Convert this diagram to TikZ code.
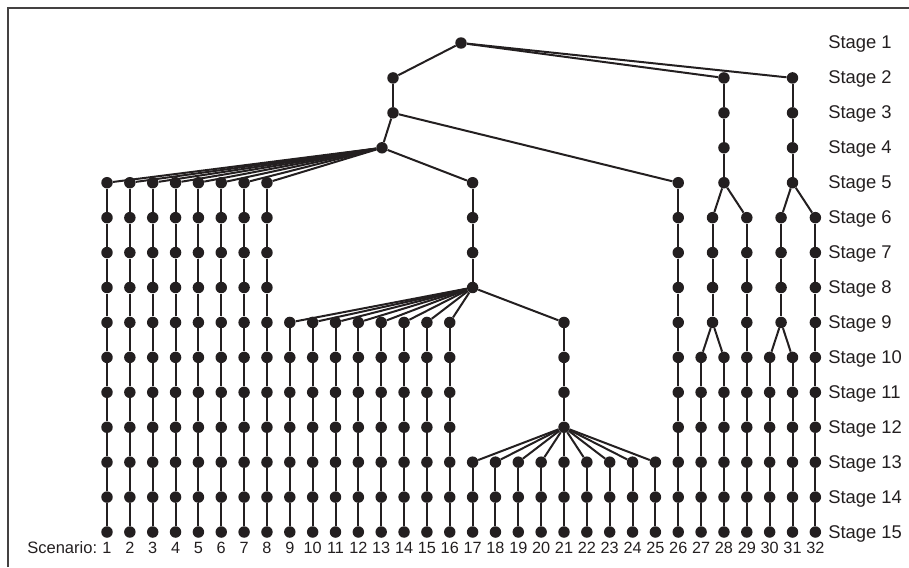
\documentclass[tikz,border=0pt]{standalone}
\usepackage{fontspec}
\setmainfont{Liberation Sans}
\definecolor{ink}{HTML}{231F20}
\begin{document}
\begin{tikzpicture}[x=0.75pt,y=-0.75pt,
  dot/.style={circle,fill=ink,inner sep=0pt,minimum size=8.6pt},
  edge/.style={draw=ink,line width=1.5pt},
  stagelbl/.style={anchor=base west,font=\fontsize{13.8}{16}\selectfont,text=ink,inner sep=0pt},
  numlbl/.style={anchor=base,font=\fontsize{12.2}{14}\selectfont,text=ink,inner sep=0pt}]
\useasboundingbox (0,0) rectangle (909,567);
\draw[line width=1.1pt,draw=ink!85] (8,567) |- (909,8);
% scenario columns
\foreach \i/\s in {1/5,2/5,3/5,4/5,5/5,6/5,7/5,8/5,
                   9/9,10/9,11/9,12/9,13/9,14/9,15/9,16/9,
                   17/13,18/13,19/13,20/13,21/13,22/13,23/13,24/13,25/13,
                   26/5,27/10,28/10,29/6,30/10,31/10,32/6}{
  \foreach \k in {\s,...,15}{
    \node[dot] (s\i-\k) at ({107+(\i-1)*22.85},{43+(\k-1)*34.93}) {};
  }
  \pgfmathtruncatemacro\sn{\s+1}
  \foreach \k [evaluate=\k as \kp using int(\k-1)] in {\sn,...,15}{
    \draw[edge] (s\i-\kp) -- (s\i-\k);
  }
}
% branch nodes
\node[dot] (r) at (461,43) {};
\node[dot] (a2) at (393,{43+1*34.93}) {};
\node[dot] (a3) at (393,{43+2*34.93}) {};
\node[dot] (a4) at (382,{43+3*34.93}) {};
\foreach \k in {2,...,5}{
  \node[dot] (b\k) at ({107+27*22.85},{43+(\k-1)*34.93}) {};
  \node[dot] (c\k) at ({107+30*22.85},{43+(\k-1)*34.93}) {};
}
\foreach \k in {5,...,8}{
  \node[dot] (d\k) at ({107+16*22.85},{43+(\k-1)*34.93}) {};
}
\foreach \k in {9,...,12}{
  \node[dot] (e\k) at ({107+20*22.85},{43+(\k-1)*34.93}) {};
}
\foreach \k in {6,...,9}{
  \node[dot] (f\k) at ({107+26.5*22.85},{43+(\k-1)*34.93}) {};
  \node[dot] (g\k) at ({107+29.5*22.85},{43+(\k-1)*34.93}) {};
}
% edges
\draw[edge] (r) -- (a2);
\draw[edge] (r) -- (b2);
\draw[edge] (r) -- (c2);
\draw[edge] (a2) -- (a3);
\draw[edge] (a3) -- (a4);
\draw[edge] (a3) -- (s26-5);
\foreach \i in {1,...,8} \draw[edge] (a4) -- (s\i-5);
\draw[edge] (a4) -- (d5);
\draw[edge] (d5) -- (d6); \draw[edge] (d6) -- (d7); \draw[edge] (d7) -- (d8);
\foreach \i in {9,...,16} \draw[edge] (d8) -- (s\i-9);
\draw[edge] (d8) -- (e9);
\draw[edge] (e9) -- (e10); \draw[edge] (e10) -- (e11); \draw[edge] (e11) -- (e12);
\foreach \i in {17,...,25} \draw[edge] (e12) -- (s\i-13);
\draw[edge] (b2) -- (b3); \draw[edge] (b3) -- (b4); \draw[edge] (b4) -- (b5);
\draw[edge] (c2) -- (c3); \draw[edge] (c3) -- (c4); \draw[edge] (c4) -- (c5);
\draw[edge] (b5) -- (f6); \draw[edge] (b5) -- (s29-6);
\draw[edge] (c5) -- (g6); \draw[edge] (c5) -- (s32-6);
\draw[edge] (f6) -- (f7); \draw[edge] (f7) -- (f8); \draw[edge] (f8) -- (f9);
\draw[edge] (g6) -- (g7); \draw[edge] (g7) -- (g8); \draw[edge] (g8) -- (g9);
\draw[edge] (f9) -- (s27-10); \draw[edge] (f9) -- (s28-10);
\draw[edge] (g9) -- (s30-10); \draw[edge] (g9) -- (s31-10);
% labels
\foreach \k in {1,...,15}{
  \node[stagelbl] (st\k) at (828,{43+(\k-1)*34.93+6}) {Stage \k};
}
\foreach \i in {1,...,32}{
  \node[numlbl] (nm\i) at ({107+(\i-1)*22.85},553) {\i};
}
\node[anchor=base west,font=\fontsize{12.4}{14}\selectfont,text=ink,inner sep=0pt] (scen) at (27,553) {Scenario:};
\end{tikzpicture}
\end{document}
